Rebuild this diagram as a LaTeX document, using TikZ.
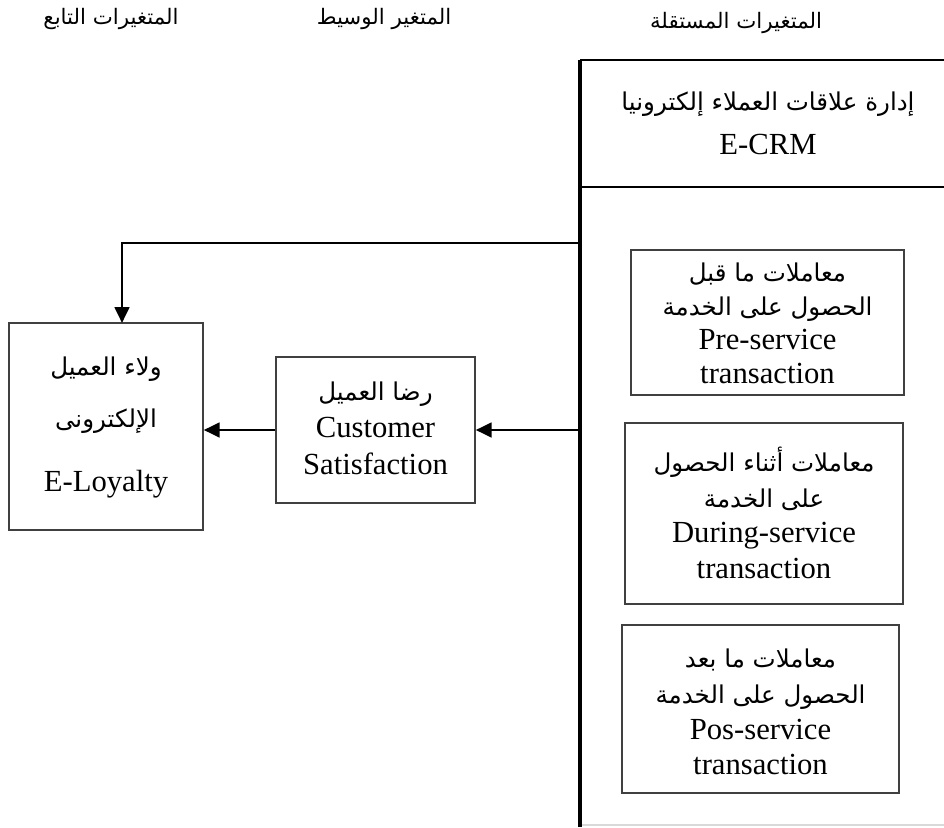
\documentclass[tikz,border=0pt]{standalone}
\usepackage{fontspec}
\setmainfont{Liberation Serif}
\newfontfamily\arabicfont[Script=Arabic,Scale=0.8]{DejaVu Sans}
\TeXXeTstate=1
\usetikzlibrary{arrows.meta,fit}
\newcommand{\ar}[1]{{\arabicfont\beginR #1\endR}}
\newcommand{\arl}[1]{\strut\smash{\arabicfont\beginR #1\endR}}
\newcommand{\enl}[1]{\strut #1}
\tikzset{
  txt/.style={font=\fontsize{20}{24}\selectfont, align=center, inner sep=0pt},
  hdrtxt/.style={font=\fontsize{23}{27}\selectfont, align=center, inner sep=0pt},
  box/.style={draw=black!75, line width=1.1pt, inner sep=0pt},
  boxtxt/.style={inner sep=0pt, align=center, font=\fontsize{23}{26.8}\selectfont},
  conn/.style={draw=black, line width=2.1pt, -{Triangle[length=12pt,width=11pt]}},
  frameline/.style={draw=black, line width=1.5pt},
}
\begin{document}
\begin{tikzpicture}[x=0.75pt,y=-0.75pt]
\useasboundingbox[fill=white] (0,0) rectangle (944,827);
% titles
\node[txt] (t1) at (111,19) {\ar{المتغيرات التابع}};
\node[txt] (t2) at (384,19) {\ar{المتغير الوسيط}};
\node[txt] (t3) at (736,23) {\ar{المتغيرات المستقلة}};
% big frame
\coordinate (ftl) at (580,60);
\coordinate (ftr) at (944,60);
\coordinate (fbl) at (580,827);
\coordinate (fdl) at (580,187);
\coordinate (fdr) at (944,187);
\coordinate (fbbl) at (580,825);
\coordinate (fbbr) at (944,825);
\draw[frameline] (ftl) -- (ftr);
\draw[frameline] (fdl) -- (fdr);
\draw[black!15, line width=0.8pt] (fbbl) -- (fbbr);
\draw[black, line width=2.3pt] (ftl) -- (fbl);
% header
\node[hdrtxt] (hdr) at (768,123) {\ar{إدارة علاقات العملاء إلكترونيا}\\[6pt] E-CRM};
% sub boxes
\node[box, fit={(631,250) (904,395)}] (b1) {};
\node[boxtxt, font=\fontsize{23}{25.6}\selectfont, yshift=-2.5pt] (b1t) at (b1.center) {\arl{معاملات ما قبل}\\ \arl{الحصول على الخدمة}\\ \enl{Pre-service}\\ \enl{transaction}};
\node[box, fit={(625,423) (903,604)}] (b2) {};
\node[boxtxt, yshift=-3.2pt] (b2t) at (b2.center) {\arl{معاملات أثناء الحصول}\\ \arl{على الخدمة}\\ \enl{During-service}\\ \enl{transaction}};
\node[box, fit={(622,625) (899,793)}] (b3) {};
\node[boxtxt, yshift=-3.75pt] (b3t) at (b3.center) {\arl{معاملات ما بعد}\\ \arl{الحصول على الخدمة}\\ \enl{Pos-service}\\ \enl{transaction}};
% mediator and dependent
\node[box, fit={(276,357) (475,503)}] (cs) {};
\node[boxtxt, yshift=0pt] (cst) at (cs.center) {\arl{رضا العميل}\\[1pt] \enl{Customer}\\[1pt] \enl{Satisfaction}};
\node[box, fit={(9,323) (203,530)}] (el) {};
\node[boxtxt] (elt) at (el.center) {\arl{ولاء العميل}\\[12pt] \arl{الإلكترونى}\\[21pt] \enl{E-Loyalty}};
% connectors
\coordinate (f1) at (580,430);
\coordinate (f2) at (580,243);
\coordinate (elin) at (122,323);
\draw[conn] (f1) -- (f1 -| cs.east);
\draw[conn] (cs.west |- f1) -- (el.east |- f1);
\draw[conn] (f2) -| (elin);
\end{tikzpicture}
\end{document}
